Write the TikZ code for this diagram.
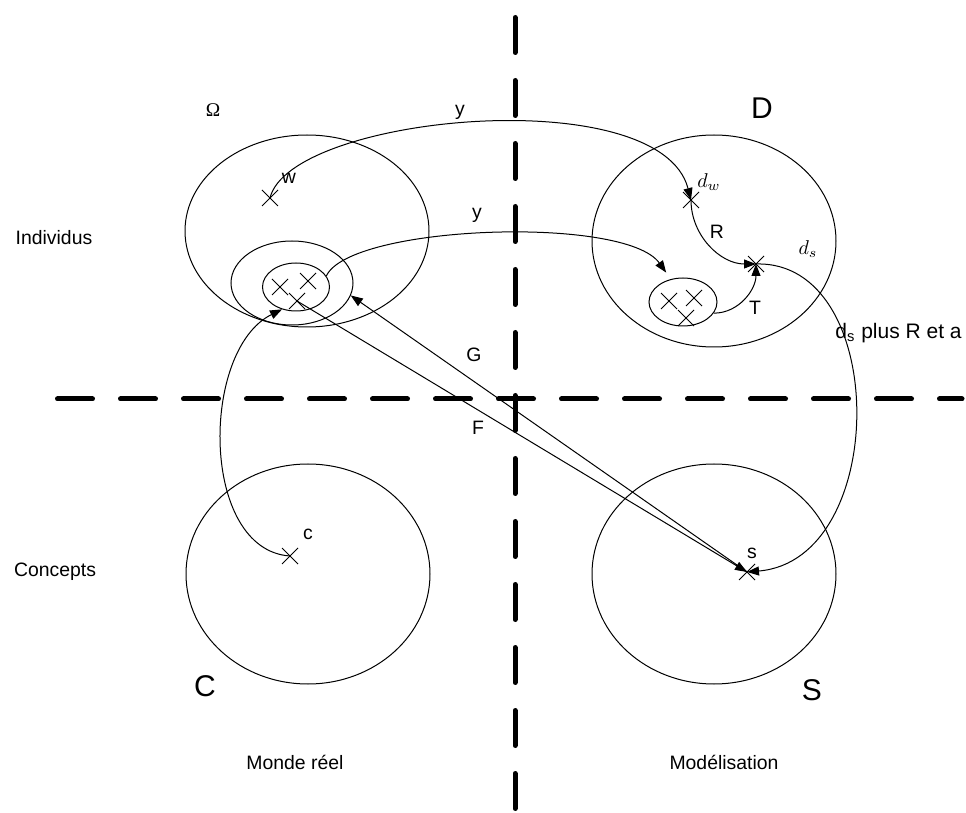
\documentclass[tikz,border=0pt]{standalone}
\usepackage{fontspec}
\setmainfont{Liberation Sans}
\newfontfamily\serifface{Liberation Serif}
\usetikzlibrary{arrows.meta, shapes.geometric, shapes.misc}

\begin{document}
\begin{tikzpicture}[
    x=0.5pt, y=-0.5pt,
    set/.style={ellipse, draw, line width=0.5pt, inner sep=0pt},
    pt/.style={cross out, draw, line width=0.5pt, minimum size=7.5pt, inner sep=0pt},
    lbl/.style={font=\fontsize{9.7}{11}\selectfont, inner sep=0pt},
    big/.style={font=\fontsize{15}{17}\selectfont, inner sep=0pt},
    axe/.style={line width=2.5pt, dash pattern=on 17.5pt off 14pt, line cap=round},
    arr/.style={-{Triangle[length=6pt, width=4.5pt]}, line width=0.5pt}
  ]
  \useasboundingbox (0,0) rectangle (966,813);

  % axes
  \draw[axe] (515,17.5) -- (515,810);
  \draw[axe] (57.5,399) -- (962,399);

  % ensembles
  \node[set, minimum width=122pt, minimum height=96pt] (omega) at (307,231) {};
  \node[set, minimum width=61pt, minimum height=42pt] (mid) at (292,283) {};
  \node[set, minimum width=33.5pt, minimum height=24pt] (inner) at (296,287) {};
  \node[set, minimum width=122pt, minimum height=106pt] (dom) at (714,241) {};
  \node[set, minimum width=34pt, minimum height=24pt] (sub) at (683,302) {};
  \node[set, minimum width=122pt, minimum height=110pt] (conc) at (308,574) {};
  \node[set, minimum width=122pt, minimum height=110pt] (sol) at (714,574) {};

  % points
  \node[pt] (w) at (270,198) {};
  \node[pt] (i1) at (280,287) {};
  \node[pt] (i2) at (308,281) {};
  \node[pt] (i3) at (297,301) {};
  \node[pt] (dw) at (691,200) {};
  \node[pt] (ds) at (756,264) {};
  \node[pt] (j1) at (669,301) {};
  \node[pt] (j2) at (694,298) {};
  \node[pt] (j3) at (686,318) {};
  \node[pt] (c) at (290,556) {};
  \node[pt] (s) at (747,572) {};

  % labels
  \node[lbl] (lomega) at (213,110) {\serifface Ω};
  \node[lbl] (lw) at (289,178) {w};
  \node[lbl] (ly1) at (460,112) {y};
  \node[lbl] (ly2) at (477,215) {y};
  \node[big] (ld) at (762,108) {D};
  \node[lbl] (ldw) at (709,182) {$d_w$};
  \node[lbl] (lr) at (717,232) {R};
  \node[lbl] (lds) at (808,249) {$d_s$};
  \node[lbl] (lt) at (755,308) {T};
  \node[lbl, anchor=west, font=\fontsize{10.5}{12}\selectfont] (lplus) at (835,333) {d\textsubscript{s} plus R et a};
  \node[lbl] (lg) at (474,355) {G};
  \node[lbl] (lf) at (478,428) {F};
  \node[lbl] (lc) at (308,534) {c};
  \node[lbl] (ls) at (752,553) {s};
  \node[big] (lcc) at (205,686) {C};
  \node[big] (lss) at (812,690) {S};
  \node[lbl] (indiv) at (54,238) {Individus};
  \node[lbl] (concepts) at (55,572) {Concepts};
  \node[lbl] (monde) at (295,762) {Monde réel};
  \node[lbl] (model) at (724,762) {Modélisation};

  % fleches
  \draw[arr] (w.center) .. controls (290,115) and (660,80) .. (dw.center);
  \draw[arr, shorten >=4pt] (inner.20) .. controls (350,225) and (625,215) .. (sub.118);
  \draw[arr] (dw.center) to[out=-90, in=180] (ds.center);
  \draw[arr] (sub.-20) to[out=0, in=-90] (ds.center);
  \draw[arr] (ds.center) .. controls (890,260) and (890,560) .. (s.center);
  \draw[arr] (c.center) .. controls (200,550) and (200,350) .. (inner.-122);
  \draw[arr] (s.center) -- (mid.-12);
  \draw[arr] (i3.center) -- (s.center);
\end{tikzpicture}
\end{document}
